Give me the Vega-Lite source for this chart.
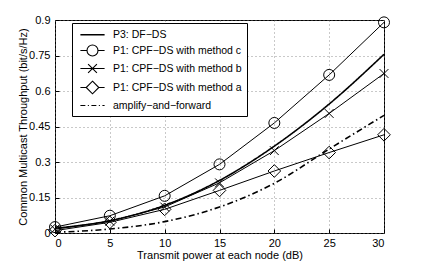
{
  "$schema": "https://vega.github.io/schema/vega-lite/v6.json",
  "width": 329,
  "height": 213,
  "autosize": "none",
  "padding": {"left": 55, "top": 20, "right": 41, "bottom": 30},
  "background": "white",
  "config": {
    "font": "Liberation Sans",
    "view": {"stroke": "black", "strokeWidth": 1},
    "axis": {
      "labelFont": "Liberation Sans",
      "labelFontSize": 11,
      "labelColor": "black",
      "titleFont": "Liberation Sans",
      "titleFontSize": 11,
      "titleFontWeight": "normal",
      "titleColor": "black",
      "domain": false,
      "grid": true,
      "gridColor": "#777777",
      "gridDash": [1, 3],
      "gridWidth": 0.8,
      "tickColor": "black",
      "ticks": true,
      "tickSize": -4,
      "tickWidth": 1,
      "labelOverlap": false
    }
  },
  "data": {
    "values": [
      {"x": 0, "y": 0.020, "s": "P3: DF−DS"},
      {"x": 5, "y": 0.052, "s": "P3: DF−DS"},
      {"x": 10, "y": 0.117, "s": "P3: DF−DS"},
      {"x": 15, "y": 0.222, "s": "P3: DF−DS"},
      {"x": 20, "y": 0.367, "s": "P3: DF−DS"},
      {"x": 25, "y": 0.545, "s": "P3: DF−DS"},
      {"x": 30, "y": 0.755, "s": "P3: DF−DS"},
      {"x": 0, "y": 0.025, "s": "P1: CPF−DS with method c"},
      {"x": 5, "y": 0.073, "s": "P1: CPF−DS with method c"},
      {"x": 10, "y": 0.157, "s": "P1: CPF−DS with method c"},
      {"x": 15, "y": 0.290, "s": "P1: CPF−DS with method c"},
      {"x": 20, "y": 0.465, "s": "P1: CPF−DS with method c"},
      {"x": 25, "y": 0.668, "s": "P1: CPF−DS with method c"},
      {"x": 30, "y": 0.890, "s": "P1: CPF−DS with method c"},
      {"x": 0, "y": 0.016, "s": "P1: CPF−DS with method b"},
      {"x": 5, "y": 0.050, "s": "P1: CPF−DS with method b"},
      {"x": 10, "y": 0.110, "s": "P1: CPF−DS with method b"},
      {"x": 15, "y": 0.212, "s": "P1: CPF−DS with method b"},
      {"x": 20, "y": 0.348, "s": "P1: CPF−DS with method b"},
      {"x": 25, "y": 0.505, "s": "P1: CPF−DS with method b"},
      {"x": 30, "y": 0.674, "s": "P1: CPF−DS with method b"},
      {"x": 0, "y": 0.010, "s": "P1: CPF−DS with method a"},
      {"x": 5, "y": 0.045, "s": "P1: CPF−DS with method a"},
      {"x": 10, "y": 0.100, "s": "P1: CPF−DS with method a"},
      {"x": 15, "y": 0.180, "s": "P1: CPF−DS with method a"},
      {"x": 20, "y": 0.262, "s": "P1: CPF−DS with method a"},
      {"x": 25, "y": 0.340, "s": "P1: CPF−DS with method a"},
      {"x": 30, "y": 0.415, "s": "P1: CPF−DS with method a"},
      {"x": 0, "y": 0.003, "s": "amplify−and−forward"},
      {"x": 5, "y": 0.017, "s": "amplify−and−forward"},
      {"x": 10, "y": 0.048, "s": "amplify−and−forward"},
      {"x": 15, "y": 0.110, "s": "amplify−and−forward"},
      {"x": 20, "y": 0.210, "s": "amplify−and−forward"},
      {"x": 25, "y": 0.355, "s": "amplify−and−forward"},
      {"x": 30, "y": 0.497, "s": "amplify−and−forward"}
    ]
  },
  "layer": [
    {
      "transform": [{"filter": {"field": "s", "oneOf": ["P1: CPF−DS with method c", "P1: CPF−DS with method b", "P1: CPF−DS with method a"]}}],
      "mark": {"type": "line", "interpolate": "linear", "color": "black", "strokeWidth": 1},
      "encoding": {
        "x": {
          "field": "x",
          "type": "quantitative",
          "scale": {"domain": [0, 30], "nice": false},
          "axis": {"values": [0, 5, 10, 15, 20, 25, 30], "tickCount": 12, "title": "Transmit power at each node (dB)", "labelPadding": 8, "titlePadding": 1}
        },
        "y": {
          "field": "y",
          "type": "quantitative",
          "scale": {"domain": [0, 0.9], "nice": false},
          "axis": {"values": [0, 0.15, 0.3, 0.45, 0.6, 0.75, 0.9], "tickCount": 12, "labelExpr": "format(datum.value, '~g')", "title": "Common Multicast Throughput (bit/s/Hz)", "labelPadding": 9, "titlePadding": 0}
        },
        "detail": {"field": "s", "type": "nominal"}
      }
    },
    {
      "transform": [{"filter": {"field": "s", "oneOf": ["P3: DF−DS", "amplify−and−forward"]}}],
      "mark": {"type": "line", "interpolate": "monotone", "color": "black", "strokeWidth": 1.6},
      "encoding": {
        "x": {"field": "x", "type": "quantitative"},
        "y": {"field": "y", "type": "quantitative"},
        "strokeDash": {
          "field": "s",
          "type": "nominal",
          "scale": {"domain": ["P3: DF−DS", "amplify−and−forward"], "range": [[1, 0], [6, 3, 1.5, 3]]},
          "legend": null
        }
      }
    },
    {
      "transform": [{"filter": {"field": "s", "oneOf": ["P1: CPF−DS with method c", "P1: CPF−DS with method b", "P1: CPF−DS with method a"]}}],
      "mark": {"type": "point", "filled": false, "color": "black", "strokeWidth": 1, "size": 121, "opacity": 1},
      "encoding": {
        "x": {"field": "x", "type": "quantitative"},
        "y": {"field": "y", "type": "quantitative"},
        "shape": {
          "field": "s",
          "type": "nominal",
          "scale": {
            "domain": ["P1: CPF−DS with method c", "P1: CPF−DS with method b", "P1: CPF−DS with method a"],
            "range": ["M-1,0A1,1 0 1,0 1,0A1,1 0 1,0 -1,0", "M-0.8,-0.8L0.8,0.8M-0.8,0.8L0.8,-0.8", "M0,-1.15L1.15,0L0,1.15L-1.15,0Z"]
          },
          "legend": null
        }
      }
    },
    {
      "transform": [{"filter": "datum.x < -100"}],
      "mark": {"type": "point", "filled": false, "color": "black", "strokeWidth": 1.1, "size": 121, "opacity": 1},
      "encoding": {
        "x": {"field": "x", "type": "quantitative"},
        "y": {"field": "y", "type": "quantitative"},
        "shape": {
          "field": "s",
          "type": "nominal",
          "scale": {
            "domain": ["P3: DF−DS", "P1: CPF−DS with method c", "P1: CPF−DS with method b", "P1: CPF−DS with method a", "amplify−and−forward"],
            "range": [
              "M-2.2,0H2.2M-2.2,0.06H2.2",
              "M-2.2,0H-1M1,0H2.2M-1,0A1,1 0 1,0 1,0A1,1 0 1,0 -1,0",
              "M-2.2,0H2.2M-0.8,-0.8L0.8,0.8M-0.8,0.8L0.8,-0.8",
              "M-2.2,0H-1.15M1.15,0H2.2M0,-1.15L1.15,0L0,1.15L-1.15,0Z",
              "M-2.2,0H-1.3M-0.85,0H-0.65M-0.2,0H0.7M1.15,0H1.35M1.8,0H2.2"
            ]
          },
          "legend": {
            "title": null,
            "orient": "none",
            "legendX": 17,
            "legendY": 3,
            "fillColor": "white",
            "strokeColor": "black",
            "padding": 5,
            "cornerRadius": 0,
            "labelFont": "Liberation Sans",
            "labelFontSize": 10.5,
            "labelColor": "black",
            "symbolSize": 121,
            "symbolOffset": 9,
            "labelOffset": 14,
            "rowPadding": 2,
            "symbolStrokeColor": "black",
            "symbolFillColor": "transparent",
            "symbolStrokeWidth": 1.1
          }
        }
      }
    }
  ],
  "resolve": {"scale": {"shape": "independent"}}
}
